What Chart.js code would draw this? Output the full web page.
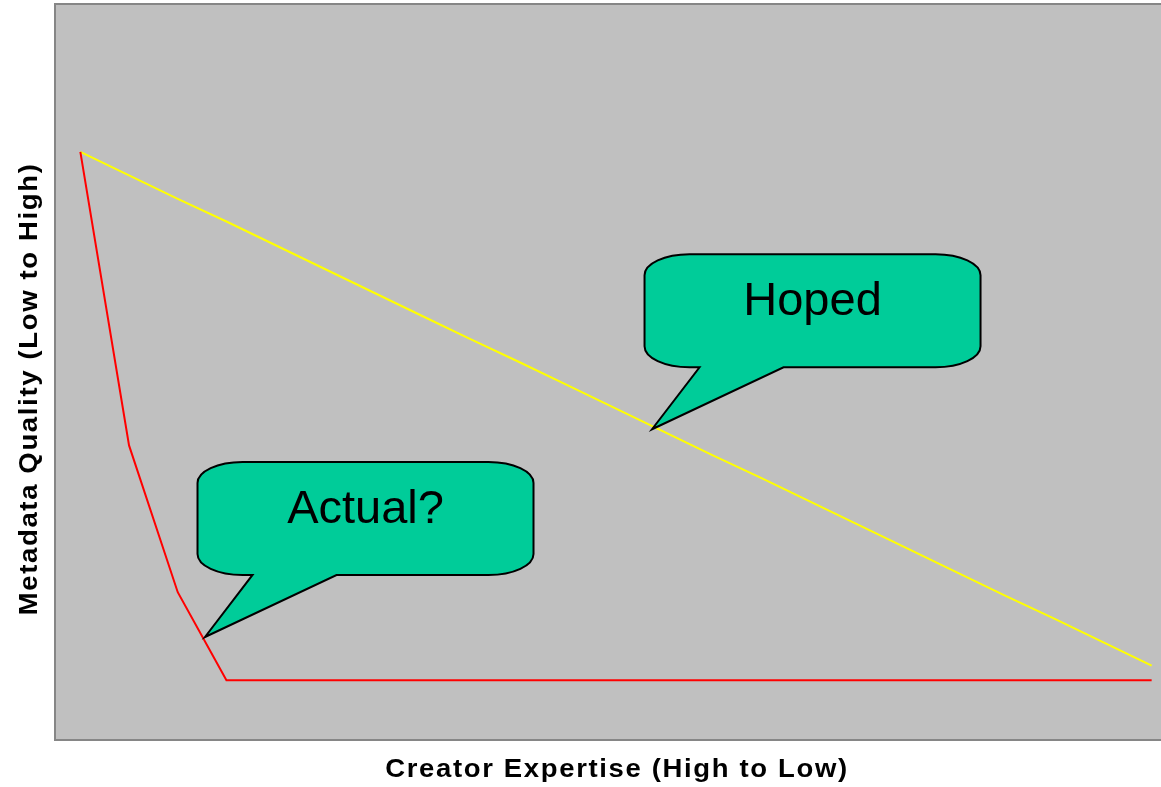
<!DOCTYPE html>
<html>
<head>
<meta charset="utf-8">
<script src="https://cdn.jsdelivr.net/npm/chart.js@4/dist/chart.umd.min.js"></script>
<style>
  html, body { margin: 0; padding: 0; background: #ffffff; overflow: hidden; }
  #wrap { width: 1176px; height: 787px; }
</style>
</head>
<body>
<div id="wrap"><canvas id="quality-chart" width="1176" height="787"></canvas></div>
<script>
// categories: creator expertise steps, high -> low
const steps = ['1', '2', '3', '4', '5', '6', '7', '8', '9', '10', '11', '12',
  '13', '14', '15', '16', '17', '18', '19', '20', '21', '22', '23'];
// metadata quality, 0 = low, 100 = high
const hopedData = [80, 76.8, 73.6, 70.5, 67.3, 64.1, 60.9, 57.7, 54.5, 51.4, 48.2, 45.0,
  41.8, 38.6, 35.5, 32.3, 29.1, 25.9, 22.7, 19.5, 16.4, 13.2, 10.0];
const actualData = [80, 40, 20, 8, 8, 8, 8, 8, 8, 8, 8, 8,
  8, 8, 8, 8, 8, 8, 8, 8, 8, 8, 8];
const xTitle = 'Creator Expertise (High to Low)';
const yTitle = 'Metadata Quality (Low to High)';
// callout labels and the (step index, quality) their tails point at
const calloutLabels = ['Hoped', 'Actual?'];
const calloutTipX = [11.74, 2.56];
const calloutTipY = [42.2, 13.9];

const plotFrame = {
  id: 'plotFrame',
  beforeDraw(chart) {
    const { ctx, chartArea: a } = chart;
    ctx.save();
    ctx.fillStyle = '#c0c0c0';
    ctx.fillRect(a.left, a.top, a.right - a.left, a.bottom - a.top);
    ctx.strokeStyle = '#868686';
    ctx.lineWidth = 2;
    ctx.strokeRect(a.left - 1, a.top - 1, a.right - a.left + 2, a.bottom - a.top + 2);
    ctx.restore();
  },
  afterDraw(chart) {
    const { ctx, chartArea: a } = chart;
    ctx.save();
    ctx.fillStyle = '#000000';
    ctx.font = 'bold 25px "Liberation Sans", Arial, sans-serif';
    ctx.letterSpacing = '1.5px';
    ctx.textAlign = 'center';
    ctx.textBaseline = 'alphabetic';
    // titles are drawn a bit stretched along their reading direction
    ctx.save();
    ctx.translate((a.left + a.right) / 2 + 1, 777);
    ctx.scale(1.1, 1);
    ctx.fillText(xTitle, 0, 0);
    ctx.restore();
    ctx.translate(37, 390);
    ctx.rotate(-Math.PI / 2);
    ctx.scale(1.1, 1);
    ctx.fillText(yTitle, 1, 0);
    ctx.restore();
  },
};

// speech bubbles: rounded box with a wedge tail down to the tip point
const callouts = {
  id: 'callouts',
  afterDatasetsDraw(chart) {
    const { ctx } = chart;
    const xs = chart.scales.x;
    const ys = chart.scales.y;
    calloutLabels.forEach((label, i) => {
      const tx = xs.getPixelForValue(calloutTipX[i]);
      const ty = ys.getPixelForValue(calloutTipY[i]);
      const w = 336, h = 113, rx = 45, ry = 21;
      const left = tx - 7.5;
      const top = ty - 175;
      const right = left + w;
      const bottom = top + h;
      const t1 = left + 55, t2 = left + 139;

      ctx.save();
      ctx.beginPath();
      ctx.moveTo(left + rx, top);
      ctx.lineTo(right - rx, top);
      ctx.ellipse(right - rx, top + ry, rx, ry, 0, -Math.PI / 2, 0);
      ctx.lineTo(right, bottom - ry);
      ctx.ellipse(right - rx, bottom - ry, rx, ry, 0, 0, Math.PI / 2);
      ctx.lineTo(t2, bottom);
      ctx.lineTo(tx, ty);
      ctx.lineTo(t1, bottom);
      ctx.lineTo(left + rx, bottom);
      ctx.ellipse(left + rx, bottom - ry, rx, ry, 0, Math.PI / 2, Math.PI);
      ctx.lineTo(left, top + ry);
      ctx.ellipse(left + rx, top + ry, rx, ry, 0, Math.PI, Math.PI * 1.5);
      ctx.closePath();
      ctx.fillStyle = '#00cc99';
      ctx.fill();
      ctx.strokeStyle = '#000000';
      ctx.lineWidth = 2;
      ctx.lineJoin = 'miter';
      ctx.stroke();

      ctx.fillStyle = '#000000';
      ctx.font = '47px "Liberation Sans", Arial, sans-serif';
      ctx.textAlign = 'center';
      ctx.textBaseline = 'alphabetic';
      ctx.fillText(label, left + w / 2, top + 61);
      ctx.restore();
    });
  },
};

const ctx = document.getElementById('quality-chart').getContext('2d');

const config = {
  type: 'line',
  data: {
    labels: steps,
    datasets: [
      {
        label: 'Actual',
        data: actualData,
        borderColor: '#ff0000',
        borderWidth: 2,
        pointRadius: 0,
        tension: 0,
        fill: false,
      },
      {
        label: 'Hoped',
        data: hopedData,
        borderColor: '#ffff00',
        borderWidth: 2,
        pointRadius: 0,
        tension: 0,
        fill: false,
      },
    ],
  },
  options: {
    responsive: false,
    animation: false,
    layout: {
      padding: { left: 56, top: 5, right: 0, bottom: 48 },
    },
    plugins: {
      legend: { display: false },
      tooltip: { enabled: false },
    },
    scales: {
      x: {
        display: false,
        offset: true,
      },
      y: {
        display: false,
        min: 0,
        max: 100,
      },
    },
  },
  plugins: [plotFrame, callouts],
};

new Chart(ctx, config);
</script>
</body>
</html>
